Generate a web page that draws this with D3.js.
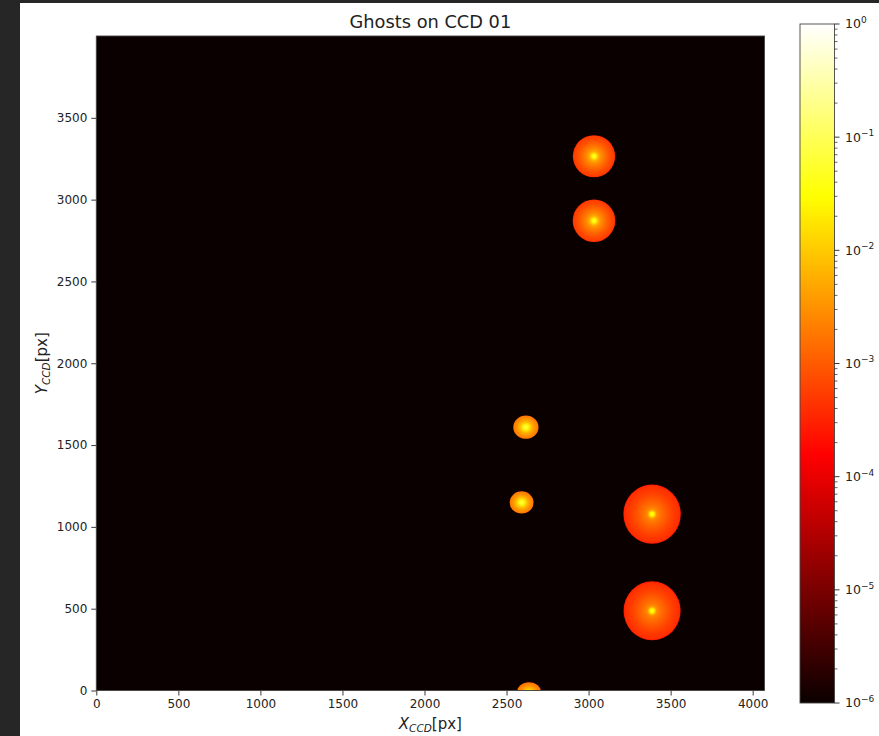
<!DOCTYPE html>
<html>
<head>
<meta charset="utf-8">
<script src="https://cdn.jsdelivr.net/npm/d3@7"></script>
<style>
  html, body { margin: 0; padding: 0; background: #262626; }
  svg { display: block; font-family: "DejaVu Sans", sans-serif; }
</style>
</head>
<body>
<svg id="chart" width="879" height="736"></svg>
<script>
// ghost spots (CCD pixel coordinates)
const ghostX     = [3033, 3033, 2618, 2592, 3387, 3387, 2637];
const ghostY     = [3265, 2871, 1609, 1149, 1078,  487,  -15];
const ghostRx    = [ 129,  130,   77,   73,  175,  174,   75];
const ghostRy    = [ 129,  130,   71,   68,  181,  180,   66];
const ghostPeak  = [0.05, 0.05, 0.07, 0.07, 0.04, 0.04, 0.06];
const ghostInner = [4.5e-3, 4.5e-3, 1.0e-2, 1.0e-2, 2.4e-3, 2.4e-3, 8e-3];
const ghostEdge  = [5.5e-4, 5.5e-4, 2.0e-3, 2.0e-3, 4.0e-4, 4.0e-4, 1.8e-3];

const xTicks = [0, 500, 1000, 1500, 2000, 2500, 3000, 3500, 4000];
const yTicks = [0, 500, 1000, 1500, 2000, 2500, 3000, 3500];
const cbExp  = [-6, -5, -4, -3, -2, -1, 0];

const ccdWidth = 4072, ccdHeight = 4000;
const vmin = 1e-6, vmax = 1;

const svg = d3.select("#chart");

// figure background
svg.append("rect").attr("x", 20).attr("y", 3).attr("width", 859).attr("height", 733).attr("fill", "#fff");

const plot = {left: 96.3, right: 764.5, top: 36, bottom: 690.5};

const x = d3.scaleLinear().domain([0, ccdWidth]).range([plot.left, plot.right]);
const y = d3.scaleLinear().domain([0, ccdHeight]).range([plot.bottom, plot.top]);

// matplotlib "hot" colormap on a log norm
const hot = d3.scaleLinear()
    .domain([0, 0.365079, 0.746032, 1])
    .range(["rgb(11,0,0)", "rgb(255,0,0)", "rgb(255,255,0)", "rgb(255,255,255)"])
    .clamp(true);
const norm = d3.scaleLog().domain([vmin, vmax]).range([0, 1]).clamp(true);
const colour = v => hot(norm(v));

const defs = svg.append("defs");
defs.append("clipPath").attr("id", "plotClip")
    .append("rect")
    .attr("x", plot.left).attr("y", plot.top)
    .attr("width", plot.right - plot.left).attr("height", plot.bottom - plot.top);

// image background (zero flux -> vmin)
svg.append("rect")
    .attr("x", plot.left).attr("y", plot.top)
    .attr("width", plot.right - plot.left).attr("height", plot.bottom - plot.top)
    .attr("fill", colour(vmin));

// radial gradient for each ghost
ghostX.forEach(function (gx, i) {
    let grad = defs.append("radialGradient").attr("id", "ghost" + i);
    let lin = Math.log10(ghostInner[i]), led = Math.log10(ghostEdge[i]);
    let rad = x(ghostRx[i]) - x(0);
    let dot = 1.6 / rad, halo = 4.5 / rad;
    grad.append("stop").attr("offset", 0).attr("stop-color", colour(ghostPeak[i]));
    grad.append("stop").attr("offset", dot).attr("stop-color", colour(ghostPeak[i] * 0.7));
    grad.append("stop").attr("offset", halo).attr("stop-color", colour(ghostInner[i] * 1.3));
    for (let k = 1; k <= 8; k++) {
        let r = halo + (0.95 - halo) * k / 8;
        let f = Math.pow(1 - (r - halo) / (0.95 - halo), 1.3);
        grad.append("stop").attr("offset", r).attr("stop-color", colour(Math.pow(10, led + (lin - led) * f)));
    }
    grad.append("stop").attr("offset", 1).attr("stop-color", colour(ghostEdge[i] * 0.6));
});

svg.append("g")
    .attr("clip-path", "url(#plotClip)")
    .selectAll("ellipse")
    .data(ghostX)
    .enter().append("ellipse")
    .attr("cx", (d, i) => x(ghostX[i]))
    .attr("cy", (d, i) => y(ghostY[i]))
    .attr("rx", (d, i) => x(ghostRx[i]) - x(0))
    .attr("ry", (d, i) => y(0) - y(ghostRy[i]))
    .attr("fill", (d, i) => "url(#ghost" + i + ")");

// axes
const xAxis = svg.append("g")
    .attr("transform", "translate(0," + plot.bottom + ")")
    .call(d3.axisBottom(x).tickValues(xTicks).tickFormat(d3.format("d")).tickSize(5).tickPadding(4));
const yAxis = svg.append("g")
    .attr("transform", "translate(" + plot.left + ",0)")
    .call(d3.axisLeft(y).tickValues(yTicks).tickFormat(d3.format("d")).tickSize(5).tickPadding(4));
[xAxis, yAxis].forEach(function (a) {
    a.select(".domain").remove();
    a.attr("font-size", null).attr("font-family", null);
    a.selectAll("text").style("font-size", "12px").attr("fill", "#222");
    a.selectAll("line").attr("stroke", "#222").attr("stroke-width", 0.9);
});

svg.append("rect")
    .attr("x", plot.left).attr("y", plot.top)
    .attr("width", plot.right - plot.left).attr("height", plot.bottom - plot.top)
    .attr("fill", "none").attr("stroke", "#444").attr("stroke-width", 0.9);

// title and labels
svg.append("text")
    .attr("x", (plot.left + plot.right) / 2).attr("y", 28)
    .attr("text-anchor", "middle")
    .style("font-size", "17.8px").attr("fill", "#222")
    .text("Ghosts on CCD 01");

let xl = svg.append("text")
    .attr("x", (plot.left + plot.right) / 2).attr("y", 729)
    .attr("text-anchor", "middle")
    .style("font-size", "15px").attr("fill", "#222");
xl.append("tspan").style("font-style", "italic").text("X");
xl.append("tspan").style("font-style", "italic").style("font-size", "10.5px").attr("dy", 3).text("CCD");
xl.append("tspan").attr("dy", -3).text("[px]");

let yl = svg.append("text")
    .attr("transform", "translate(47," + ((plot.top + plot.bottom) / 2) + ") rotate(-90)")
    .attr("text-anchor", "middle")
    .style("font-size", "15px").attr("fill", "#222");
yl.append("tspan").style("font-style", "italic").text("Y");
yl.append("tspan").style("font-style", "italic").style("font-size", "10.5px").attr("dy", 3).text("CCD");
yl.append("tspan").attr("dy", -3).text("[px]");

// colourbar
const cb = {left: 800, right: 834.5, top: 24, bottom: 703};
const cbScale = d3.scaleLog().domain([vmin, vmax]).range([cb.bottom, cb.top]);

let cbGrad = defs.append("linearGradient").attr("id", "cbGrad")
    .attr("x1", 0).attr("y1", 1).attr("x2", 0).attr("y2", 0);
hot.domain().forEach(function (t) {
    cbGrad.append("stop").attr("offset", t).attr("stop-color", hot(t));
});
svg.append("rect")
    .attr("x", cb.left).attr("y", cb.top)
    .attr("width", cb.right - cb.left).attr("height", cb.bottom - cb.top)
    .attr("fill", "url(#cbGrad)")
    .attr("stroke", "#444").attr("stroke-width", 0.9);

let minor = [];
cbExp.slice(0, -1).forEach(function (e) {
    for (let m = 2; m <= 9; m++) minor.push(m * Math.pow(10, e));
});
svg.append("g").selectAll("line")
    .data(minor)
    .enter().append("line")
    .attr("x1", cb.right).attr("x2", cb.right + 3)
    .attr("y1", d => cbScale(d)).attr("y2", d => cbScale(d))
    .attr("stroke", "#222").attr("stroke-width", 0.7);

let major = svg.append("g").selectAll("g")
    .data(cbExp)
    .enter().append("g")
    .attr("transform", d => "translate(" + cb.right + "," + cbScale(Math.pow(10, d)) + ")");
major.append("line").attr("x2", 5).attr("stroke", "#222").attr("stroke-width", 0.9);
let lab = major.append("text")
    .attr("x", 10.5).attr("dy", "0.35em")
    .style("font-size", "12.5px").attr("fill", "#222");
lab.append("tspan").text("10");
lab.append("tspan").attr("dy", -5.5).style("font-size", "9px").text(d => d === 0 ? "0" : "\u2212" + (-d));
</script>
</body>
</html>
